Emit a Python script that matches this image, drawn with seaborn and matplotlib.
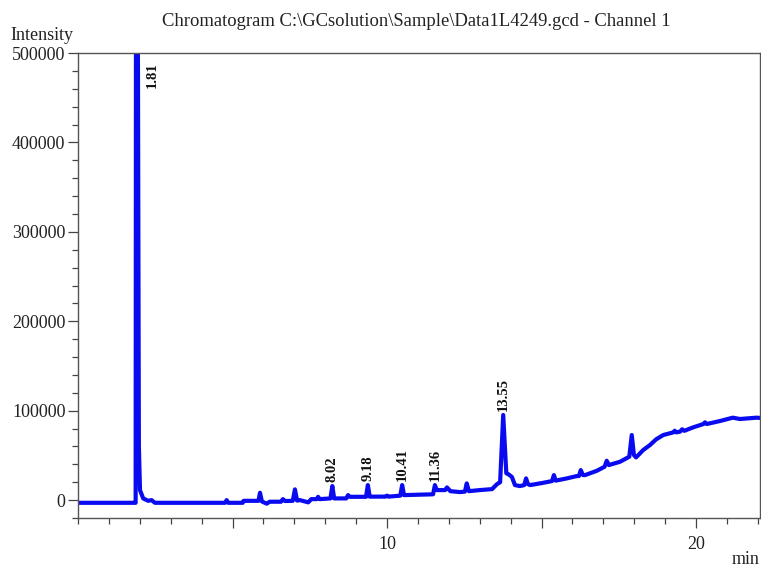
import numpy as np
import pandas as pd
import matplotlib
matplotlib.use('Agg')
import matplotlib.pyplot as plt
import seaborn as sns
from matplotlib.ticker import MultipleLocator, FixedLocator, FixedFormatter

# trace (time in min, intensity)
time_min = [0.00, 1.80, 1.865, 1.89, 1.97, 2.006, 2.11, 2.27, 2.38, 2.49,
            4.76, 4.81, 4.86, 5.33, 5.36, 5.84, 5.89, 5.95, 6.11, 6.20,
            6.57, 6.63, 6.70, 6.95, 7.02, 7.09, 7.18, 7.45, 7.55, 7.72,
            7.77, 7.82, 8.17, 8.23, 8.29, 8.68, 8.74, 8.80, 9.32, 9.38,
            9.44, 9.95, 10.00, 10.05, 10.43, 10.49, 10.55, 11.49, 11.55, 11.61,
            11.88, 11.94, 12.05, 12.36, 12.52, 12.58, 12.65, 13.00, 13.40, 13.56,
            13.66, 13.76, 13.86, 13.92, 14.04, 14.14, 14.30, 14.44, 14.50, 14.56,
            14.63, 15.00, 15.34, 15.40, 15.46, 15.82, 16.14, 16.21, 16.27, 16.34,
            16.41, 16.79, 17.04, 17.11, 17.18, 17.54, 17.84, 17.92, 17.99, 18.06,
            18.29, 18.51, 18.71, 18.94, 19.27, 19.31, 19.36, 19.48, 19.55, 19.62,
            19.91, 20.24, 20.29, 20.35, 20.78, 21.19, 21.42, 21.96, 22.10]
intensity = [-3000, -3000, -3000, 1200000, 60000, 11200, 1900, -800, 0, -3000,
             -3000, 0, -3000, -3000, -800, -800, 8200, -1500, -4000, -1800,
             -1800, 1100, -1000, -800, 12000, -500, 0, -2500, 1100, 1100,
             3700, 1100, 1900, 15700, 1900, 1900, 5600, 3700, 3700, 16800,
             3900, 3900, 5000, 3900, 5000, 16800, 5600, 6500, 16800, 11200,
             11200, 14200, 10000, 9000, 9500, 18700, 10000, 11200, 12300, 17900,
             20000, 95200, 30000, 29100, 26000, 16800, 15700, 16800, 24300, 17900,
             16800, 19000, 21300, 28000, 21800, 24300, 26900, 26900, 33600, 28000,
             28000, 32800, 37300, 44000, 39200, 42900, 48500, 72800, 50400, 47800,
             56000, 61600, 68000, 72800, 75800, 77600, 75800, 76500, 79200, 77500,
             81400, 85100, 87000, 85100, 88500, 92200, 90700, 92200, 91800]

# peak annotations: label text, peak position on the trace
peak_labels = ['8.02', '9.18', '10.41', '11.36', '13.55']
peak_x = [8.23, 9.38, 10.49, 11.55, 13.76]
peak_y = [15700, 16800, 16800, 16800, 95200]

df = pd.DataFrame({'time': time_min, 'intensity': intensity})

sns.set_theme(style='white')
plt.rcParams['font.family'] = ['Liberation Serif', 'DejaVu Serif']

fig = plt.figure(figsize=(7.61, 5.69), dpi=100)
ax = fig.add_axes([78 / 761, 1 - 518 / 569, 682 / 761, 465 / 569])

sns.lineplot(data=df, x='time', y='intensity', ax=ax, color='#0a0af0',
             linewidth=3.0, estimator=None, sort=False)

ax.set_xlim(0, 22.07)
ax.set_ylim(-20000, 500000)

ax.xaxis.set_major_locator(FixedLocator([5, 10, 15, 20]))
ax.xaxis.set_major_formatter(FixedFormatter(['', '10', '', '20']))
ax.xaxis.set_minor_locator(MultipleLocator(1))
ax.yaxis.set_major_locator(MultipleLocator(100000))
ax.yaxis.set_minor_locator(MultipleLocator(20000))
ax.yaxis.set_major_formatter(matplotlib.ticker.FuncFormatter(lambda v, p: f'{int(v)}'))

ax.tick_params(axis='both', which='major', direction='out', length=7, width=0.9,
               color='#444444', labelsize=13, labelcolor='#222222', pad=2,
               bottom=True, left=True)
ax.tick_params(axis='both', which='minor', direction='out', length=4.5, width=0.9,
               color='#444444', bottom=True, left=True)
ax.tick_params(axis='x', which='major', pad=6)

for s in ax.spines.values():
    s.set_color('#555555')
    s.set_linewidth(1.0)

ax.set_xlabel('')
ax.set_ylabel('')

# peak labels
for lab, px, py in zip(peak_labels, peak_x, peak_y):
    ax.annotate(lab, (px, py), xytext=(0, 3), textcoords='offset points',
                rotation=90, ha='center', va='bottom', fontsize=10.5,
                fontweight='bold', color='#111111')
ax.text(2.39, 490000, '1.81', rotation=90, ha='center', va='top',
        fontsize=10.5, fontweight='bold', color='#111111')

fig.text(416.5 / 761, 1 - 21 / 569,
         'Chromatogram C:\\GCsolution\\Sample\\Data1L4249.gcd - Channel 1',
         ha='center', va='center', fontsize=13.4, color='#222222')
fig.text(10 / 761, 1 - 36 / 569, 'Intensity', ha='left', va='center',
         fontsize=13, color='#222222')
fig.text(760 / 761, 1 - 560 / 569, 'min', ha='right', va='center',
         fontsize=13, color='#222222')

fig.savefig('out.png', dpi=100)
